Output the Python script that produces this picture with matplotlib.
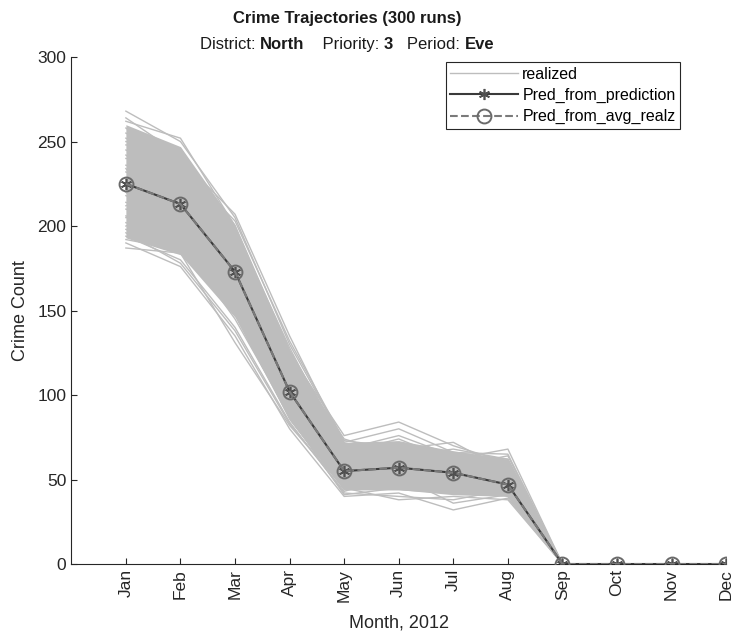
import matplotlib
matplotlib.use('Agg')
import matplotlib.pyplot as plt
from matplotlib.offsetbox import TextArea, HPacker, AnnotationBbox

plt.rcParams['font.family'] = ['Liberation Sans', 'DejaVu Sans']

months = ['Jan', 'Feb', 'Mar', 'Apr', 'May', 'Jun',
          'Jul', 'Aug', 'Sep', 'Oct', 'Nov', 'Dec']

# predicted trajectories
pred_from_prediction = [225, 213, 173, 102, 55, 57, 54, 47, 0, 0, 0, 0]
pred_from_avg_realz = [225, 213, 173, 102, 55, 57, 54, 47, 0, 0, 0, 0]

# dense core of the 300 realized runs
core_lo = [193, 183, 146, 85, 44, 44, 41, 40, 0, 0, 0, 0]
core_hi = [260, 247, 201, 127, 72, 73, 67, 62, 0, 0, 0, 0]

# a sample of individual realized runs, Jan..Aug (Sep..Dec are all 0)
realized_runs = [
    [268, 250, 205, 130, 72, 80, 66, 62],
    [262, 252, 200, 124, 76, 84, 70, 60],
    [255, 240, 207, 135, 70, 72, 62, 68],
    [250, 246, 195, 118, 64, 68, 72, 55],
    [245, 232, 190, 120, 68, 62, 58, 64],
    [240, 238, 185, 112, 60, 66, 60, 52],
    [236, 228, 182, 110, 58, 60, 64, 50],
    [232, 222, 178, 108, 62, 58, 56, 58],
    [228, 218, 176, 105, 56, 62, 55, 48],
    [222, 210, 170, 100, 52, 54, 50, 45],
    [218, 206, 168, 98, 54, 52, 52, 44],
    [214, 204, 165, 96, 50, 50, 48, 42],
    [210, 200, 160, 94, 48, 55, 46, 46],
    [206, 198, 158, 92, 52, 48, 50, 40],
    [202, 192, 155, 90, 46, 46, 44, 43],
    [198, 188, 150, 86, 44, 44, 42, 41],
    [194, 180, 140, 84, 42, 40, 38, 44],
    [190, 176, 135, 80, 40, 42, 32, 39],
    [187, 184, 131, 82, 45, 38, 40, 38],
    [258, 234, 198, 128, 66, 74, 61, 57],
    [248, 244, 188, 122, 74, 64, 68, 62],
    [212, 226, 184, 114, 58, 70, 57, 53],
    [200, 212, 162, 104, 50, 60, 52, 49],
    [234, 196, 174, 96, 62, 50, 58, 51],
    [220, 190, 145, 88, 47, 57, 46, 42],
    [242, 220, 192, 116, 60, 48, 62, 56],
    [205, 202, 170, 100, 53, 64, 49, 45],
    [264, 242, 196, 126, 68, 76, 64, 59],
    [252, 236, 203, 132, 73, 69, 66, 65],
    [196, 178, 138, 83, 43, 52, 36, 41],
    [192, 186, 148, 87, 41, 45, 42, 42],
]
zero_tail = [0, 0, 0, 0]

x = list(range(1, 13))
gray = '#bdbdbd'
ink = '#262626'

fig = plt.figure(figsize=(7.35, 6.34), dpi=100)
ax = fig.add_axes([0.097, 0.1104, 0.891, 0.7996])

ax.fill_between(x, core_lo, core_hi, color=gray, lw=0, zorder=1)
for i, run in enumerate(realized_runs):
    ax.plot(x, run + zero_tail, color=gray, lw=1.0, zorder=2,
            label='realized' if i == 0 else None)

ax.plot(x, pred_from_prediction, color='#3a3a3a', lw=1.5, marker=(6, 2, 0),
        markersize=8, markeredgecolor='#505050', markeredgewidth=1.2, zorder=4,
        label='Pred_from_prediction')
ax.plot(x, pred_from_avg_realz, color='#7a7a7a', lw=1.5, ls='--', marker='o',
        markersize=10, markerfacecolor='none', markeredgecolor='#6a6a6a',
        markeredgewidth=1.4, zorder=5, label='Pred_from_avg_realz')

ax.set_xlim(0, 12)
ax.set_ylim(0, 300)
ax.set_xticks(x)
ax.set_xticklabels(months, rotation=90)
ax.set_yticks(range(0, 301, 50))
ax.tick_params(direction='in', length=4, labelsize=12.5, colors=ink)
for s in ['top', 'right']:
    ax.spines[s].set_visible(False)
for s in ['left', 'bottom']:
    ax.spines[s].set_color(ink)
    ax.spines[s].set_linewidth(0.8)

ax.set_xlabel('Month, 2012', fontsize=13, color=ink, labelpad=9)
ax.set_ylabel('Crime Count', fontsize=13, color=ink, labelpad=6)

leg = ax.legend(loc='upper right', bbox_to_anchor=(0.93, 0.99),
                fontsize=11.5, fancybox=False, framealpha=1,
                edgecolor=ink, borderpad=0.3, labelspacing=0.38,
                handlelength=4.2, handletextpad=0.3, borderaxespad=0.0)
leg.get_frame().set_linewidth(0.8)

fig.text(0.472, 0.971, 'Crime Trajectories (300 runs)', ha='center',
         va='center', fontsize=12, fontweight='bold', color='#1a1a1a')

parts = [('District: ', 'normal'), ('North', 'bold'), ('    Priority: ', 'normal'),
         ('3', 'bold'), ('   Period: ', 'normal'), ('Eve', 'bold')]
boxes = [TextArea(t, textprops=dict(fontsize=12, fontweight=w, color='#1a1a1a'))
         for t, w in parts]
pack = HPacker(children=boxes, pad=0, sep=0, align='baseline')
ab = AnnotationBbox(pack, (0.472, 0.930), xycoords='figure fraction',
                    frameon=False, box_alignment=(0.5, 0.5))
fig.add_artist(ab)

fig.savefig('out.png', dpi=100)
